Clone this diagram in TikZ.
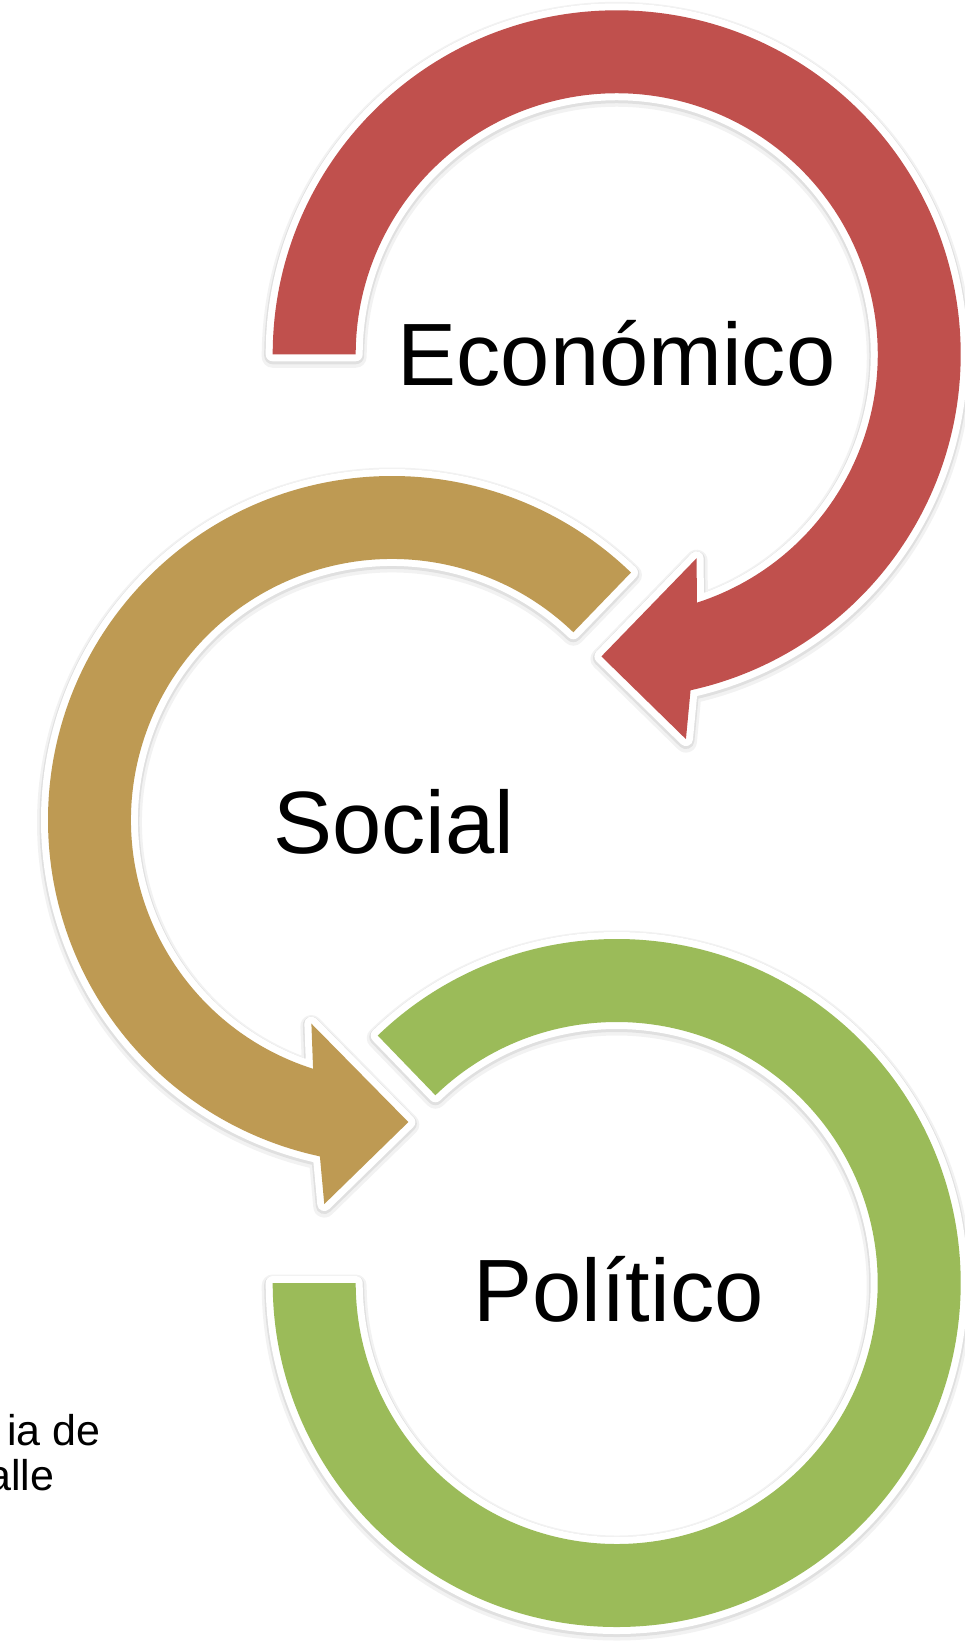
\documentclass[tikz,border=0pt]{standalone}
\usepackage{fontspec}
\setmainfont{Liberation Sans}
\definecolor{cRed}{HTML}{C0504D}
\definecolor{cTan}{HTML}{BE9A53}
\definecolor{cGreen}{HTML}{9BBB59}
\newcommand\RedShape{(180:344) arc[start angle=180,end angle=-77.6,radius=344] -- (-79.8:391) -- (-92.9:302.5) -- (-68.6:219) -- (-72.1:261) arc[start angle=-72.1,end angle=180,radius=261] -- cycle}
\newcommand\TanShape{(46:344) arc[start angle=46,end angle=257.9,radius=344] -- (260:390) -- (273.1:302.5) -- (248.4:219) -- (252.4:261) arc[start angle=252.4,end angle=46,radius=261] -- cycle}
\newcommand\GreenShape{(180:344) arc[start angle=180,end angle=494,radius=344] -- (134:261) arc[start angle=134,end angle=-180,radius=261] -- cycle}
\begin{document}
\begin{tikzpicture}[x=1pt,y=1pt,
  shadowA/.style={draw=black,draw opacity=0.05,line width=22pt,line join=round,yshift=-2.5pt},
  shadowB/.style={draw=black,draw opacity=0.07,line width=17pt,line join=round,yshift=-1.5pt},
  halo/.style={draw=white,fill=white,line width=14pt,line join=round},
  label/.style={font=\fontsize{88.5}{100}\selectfont,anchor=base,inner sep=0pt},
  small/.style={font=\fontsize{43}{45}\selectfont,anchor=base west,inner sep=0pt}]
\useasboundingbox (0,0) rectangle (964,-1641);
\fill[white] (0,0) rectangle (964,-1641);
% shadows
\begin{scope}[shift={(616.7,-354.3)}]
  \draw[shadowA] \RedShape; \draw[shadowB] \RedShape;
\end{scope}
\begin{scope}[shift={(392,-820)}]
  \draw[shadowA] \TanShape; \draw[shadowB] \TanShape;
\end{scope}
\begin{scope}[shift={(616.7,-1283)}]
  \draw[shadowA] \GreenShape; \draw[shadowB] \GreenShape;
\end{scope}
% white outlines
\begin{scope}[shift={(616.7,-354.3)}]
  \draw[halo] \RedShape;
\end{scope}
\begin{scope}[shift={(392,-820)}]
  \draw[halo] \TanShape;
\end{scope}
\begin{scope}[shift={(616.7,-1283)}]
  \draw[halo] \GreenShape;
\end{scope}
% colour fills
\begin{scope}[shift={(616.7,-354.3)}]
  \fill[cRed] \RedShape;
\end{scope}
\begin{scope}[shift={(392,-820)}]
  \fill[cTan] \TanShape;
\end{scope}
\begin{scope}[shift={(616.7,-1283)}]
  \fill[cGreen] \GreenShape;
\end{scope}
% labels
\node[label] (eco) at (616.5,-385.2) {Económico};
\node[label] (soc) at (394,-853) {Social};
\node[label] (pol) at (618.6,-1321) {Político};
\node[small] (src1) at (7,-1445) {ia de};
\node[small] (src2) at (-13,-1490) {alle};
\end{tikzpicture}
\end{document}
